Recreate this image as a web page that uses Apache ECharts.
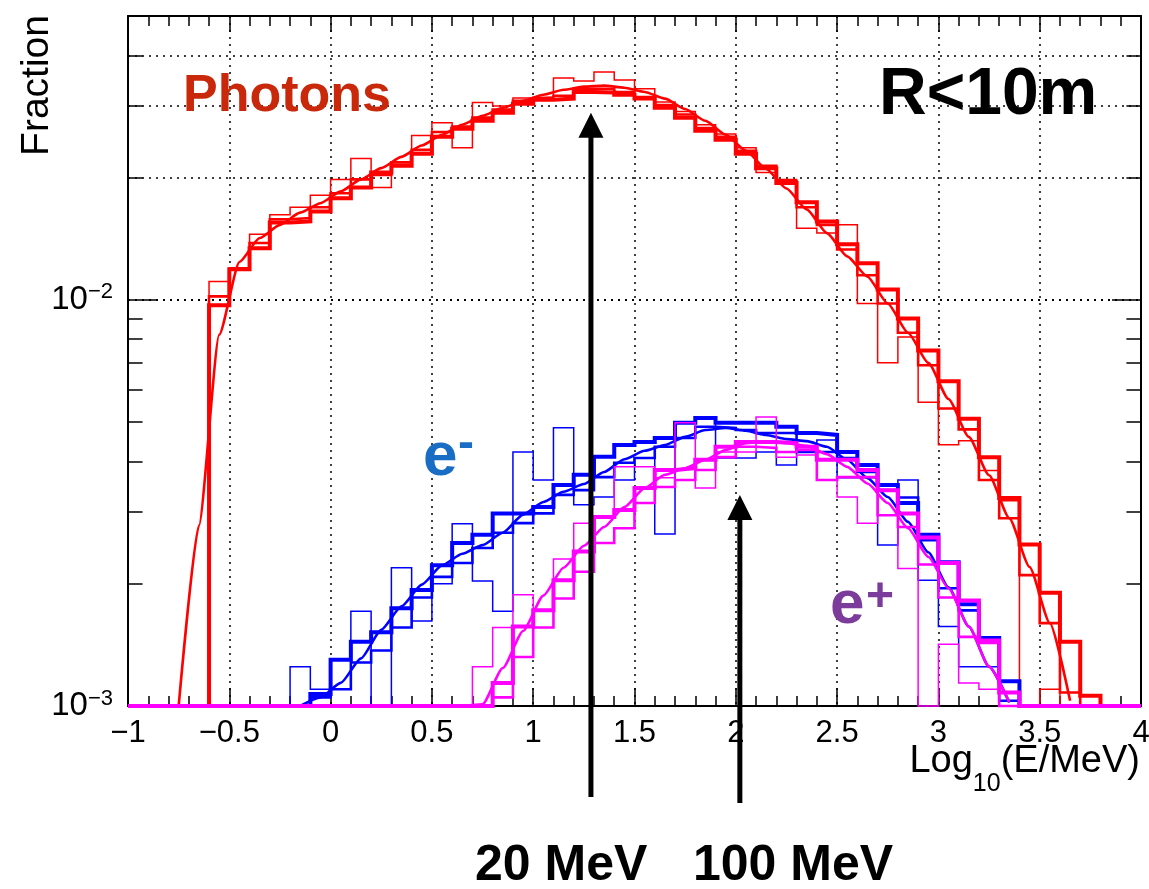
<!DOCTYPE html>
<html><head><meta charset="utf-8">
<script src="https://cdn.jsdelivr.net/npm/echarts@6/dist/echarts.min.js"></script>
<style>html,body{margin:0;padding:0;background:#fff}#c{width:1149px;height:889px}</style>
</head><body><div id="c"></div>
<script>
// ---- axis setup values ----
const BIN = 0.1;                 // histogram bin width in log10(E/MeV)
const X_MIN = -1, X_MAX = 4, X_STEP = 0.5;
const Y_MIN = 0.001, Y_MAX = 0.05;
const yMinorTicks = [0.002,0.003,0.004,0.005,0.006,0.007,0.008,0.009,0.02,0.03,0.04];

// ---- photons (first bin low edge -0.6) ----
const photonsStart = -0.6;
const photonsThin = [0.0111,0.0120,0.0145,0.0162,0.0169,0.0181,0.0198,0.0223,0.0189,0.0218,0.0254,0.0273,0.0237,0.0306,0.0300,0.0314,0.0316,0.0352,0.0346,0.0364,0.0348,0.0331,0.0307,0.0291,0.0270,0.0256,0.0237,0.0206,0.0198,0.0150,0.0146,0.0153,0.0098,0.0070,0.0081,0.0056,0.0044,0.0045,0.0038,0.0032,0,0.0011];
const photonsMedium = [0.0102,0.0119,0.0138,0.0158,0.0159,0.0169,0.0183,0.0198,0.0203,0.0218,0.0234,0.0259,0.0267,0.0281,0.0294,0.0309,0.0314,0.0318,0.0331,0.0331,0.0325,0.0316,0.0302,0.0286,0.0265,0.0252,0.0233,0.0214,0.0196,0.0169,0.0153,0.0133,0.0115,0.0098,0.0083,0.0069,0.0054,0.0048,0.0036,0.0029,0.0021,0.0016,0.00108];
const photonsThick = [0.0097,0.0119,0.0134,0.0155,0.0156,0.0165,0.0178,0.0189,0.0206,0.0214,0.0229,0.0252,0.0264,0.0276,0.0289,0.0304,0.0311,0.0313,0.0325,0.0324,0.0320,0.0313,0.0297,0.0281,0.0261,0.0248,0.0229,0.0211,0.0194,0.0174,0.0156,0.0137,0.0123,0.0106,0.0090,0.0075,0.0063,0.0051,0.0041,0.00325,0.0025,0.0019,0.00144,0.00106];
const photonsCurveStart = -0.75; // bin centre of first curve point
const photonsCurve = [0.001,0.00278,0.0082,0.0124,0.0142,0.0153,0.0164,0.0173,0.0185,0.0198,0.0211,0.0225,0.0240,0.0255,0.0270,0.0284,0.0297,0.0309,0.0320,0.0329,0.0335,0.0337,0.0333,0.0325,0.0313,0.0295,0.0276,0.0255,0.0233,0.0210,0.0188,0.0167,0.0146,0.0128,0.0114,0.0098,0.0083,0.0070,0.0057,0.0046,0.0037,0.0029,0.0022,0.0016,0.00103];

// ---- electrons ----
const electronsThinStart = -0.2;
const electronsThin = [0.00125,0.00110,0.00110,0.00171,0,0.00219,0.00162,0.00200,0.00281,0.00203,0.00171,0.00422,0.00360,0.00484,0.00313,0.00327,0.00360,0.00408,0.00265,0.00498,0.00512,0.00408,0.00408,0.00422,0.00392,0.00422,0.00452,0.00365,0.00365,0.00249,0.00360,0.00204,0.00157,0.00125,0.00125];
const electronsStart = -0.1;
const electronsMedium = [0.00105,0.00110,0.00128,0.00137,0.00156,0.00185,0.00208,0.00225,0.00245,0.00267,0.00282,0.00298,0.00331,0.00340,0.00366,0.00397,0.00408,0.00435,0.00457,0.00487,0.00484,0.00478,0.00470,0.00470,0.00422,0.00422,0.00408,0.00377,0.00340,0.00326,0.00256,0.00195,0.00172,0.00144,0.00103];
const electronsThick = [0.00107,0.00130,0.00144,0.00152,0.00174,0.00193,0.00222,0.00252,0.00264,0.00298,0.00298,0.00309,0.00350,0.00371,0.00411,0.00439,0.00447,0.00457,0.00498,0.00512,0.00498,0.00498,0.00498,0.00487,0.00470,0.00465,0.00422,0.00392,0.00350,0.00316,0.00264,0.00226,0.00178,0.00147,0.00115];
const electronsCurveStart = -0.15;
const electronsCurve = [0.001,0.00105,0.00114,0.00131,0.00154,0.00176,0.00199,0.00222,0.00237,0.00249,0.00267,0.00296,0.00318,0.00337,0.00352,0.00377,0.00405,0.00425,0.00439,0.00460,0.00478,0.00484,0.00476,0.00465,0.00454,0.00449,0.00435,0.00404,0.00364,0.00327,0.00284,0.00239,0.00196,0.00157,0.00125,0.00102];

// ---- positrons ----
const positronsThinStart = 0.7;
const positronsThin = [0.00125,0.00156,0.00188,0.00172,0.00230,0.00282,0.00292,0.00388,0.00388,0.00365,0.00498,0.00344,0.00422,0.00422,0.00515,0.00410,0.00415,0.00360,0.00327,0.00282,0.00295,0.00218,0,0.00142,0.00114,0.00110];
const positronsStart = 0.8;
const positronsMedium = [0.00105,0.00132,0.00156,0.00184,0.00214,0.00252,0.00274,0.00316,0.00346,0.00360,0.00381,0.00410,0.00435,0.00432,0.00422,0.00427,0.00360,0.00366,0.00366,0.00295,0.00276,0.00223,0.00185,0.00148,0.00143,0.001];
const positronsThick = [0.00114,0.00157,0.00172,0.00204,0.00240,0.00292,0.00304,0.00344,0.00381,0.00385,0.00404,0.00435,0.00447,0.00447,0.00444,0.00435,0.00404,0.00404,0.00381,0.00340,0.00298,0.00260,0.00225,0.00182,0.00145,0.00108];
const positronsCurveStart = 0.65;
const positronsCurve = [0.001,0.00101,0.00124,0.00153,0.00187,0.00219,0.00248,0.00276,0.00309,0.00344,0.00371,0.00385,0.00404,0.00427,0.00444,0.00447,0.00444,0.00437,0.00417,0.00388,0.00353,0.00316,0.00274,0.00233,0.00195,0.00157,0.00125,0.00102];

// ---- energy thresholds marked by arrows: [log10(E/MeV), y from, y to] ----
const arrowLabels = ['20 MeV', '100 MeV'];
const arrows = [[1.285, 0.000597, 0.0289], [2.02, 0.000577, 0.00331]];

// ---------------------------------------------------------------
const FONT = '"Liberation Sans", Arial, Helvetica, sans-serif';
const RED = '#ff0000', BLUE = '#0000ff', MAG = '#ff00ff';

function hist(start, vals) {
  const n = Math.round((X_MAX - X_MIN) / BIN);
  const off = Math.round((start - X_MIN) / BIN);
  const pts = [];
  for (let i = 0; i <= n; i++) {
    const j = Math.min(i, n - 1) - off;
    let v = (j >= 0 && j < vals.length) ? vals[j] : 0;
    if (!(v > Y_MIN)) v = Y_MIN;
    pts.push([+(X_MIN + i * BIN).toFixed(3), v]);
  }
  return pts;
}
function curve(start, vals) {
  return vals.map((v, i) => [+(start + i * BIN).toFixed(3), Math.max(v, Y_MIN)]);
}
function histSeries(name, start, vals, color, width) {
  return { type: 'line', name, data: hist(start, vals), step: 'end', symbol: 'none', clip: false,
    silent: true, animation: false, lineStyle: { color, width, join: 'miter' } };
}
function curveSeries(name, start, vals, color) {
  return { type: 'line', name, data: curve(start, vals), smooth: 0.2, smoothMonotone: 'x',
    symbol: 'none', clip: false, silent: true, animation: false, lineStyle: { color, width: 2.6 } };
}
const dotted = { color: '#000', type: [2, 5], width: 1.5 };
const TICK_X = 0.072; // minor y tick length in x units

function fmtX(v) {
  const r = Math.round(v * 10) / 10;
  return String(r).replace('-', '\u2212');
}
function fmtY(v) {
  const e = Math.log10(v), r = Math.round(e);
  if (Math.abs(e - r) > 1e-6) return '';
  return '{b|10}{s|' + (r < 0 ? '\u2212' : '') + Math.abs(r) + '}';
}

const chart = echarts.init(document.getElementById('c'));
chart.setOption({
  animation: false,
  backgroundColor: '#fff',
  grid: { left: 128, right: 8, top: 16, bottom: 183, containLabel: false, outerBoundsMode: 'none' },
  xAxis: [{
    type: 'value', min: X_MIN, max: X_MAX, interval: X_STEP, position: 'bottom',
    axisLine: { show: true, onZero: false, lineStyle: { color: '#000', width: 2 } },
    axisTick: { show: true, inside: true, length: 18, lineStyle: { color: '#000', width: 1.5 } },
    minorTick: { show: true, splitNumber: 5, length: 10, lineStyle: { color: '#000', width: 1.5 } },
    axisLabel: { show: true, margin: 12, color: '#000', fontSize: 31, fontFamily: FONT, formatter: fmtX },
    splitLine: { show: true, lineStyle: dotted }
  }, {
    type: 'value', min: X_MIN, max: X_MAX, interval: X_STEP, position: 'top',
    axisLine: { show: true, onZero: false, lineStyle: { color: '#000', width: 2 } },
    axisTick: { show: true, inside: true, length: 16, lineStyle: { color: '#000', width: 1.5 } },
    minorTick: { show: true, splitNumber: 5, length: 10, lineStyle: { color: '#000', width: 1.5 } },
    axisLabel: { show: false }, splitLine: { show: false }
  }],
  yAxis: [{
    type: 'log', logBase: 10, min: Y_MIN, max: Y_MAX, position: 'left',
    axisLine: { show: true, onZero: false, lineStyle: { color: '#000', width: 2 } },
    axisTick: { show: true, inside: true, length: 29, lineStyle: { color: '#000', width: 1.5 } },
    minorTick: { show: false },
    axisLabel: { show: true, margin: 15, formatter: fmtY,
      rich: { b: { fontSize: 33, fontFamily: FONT, color: '#000', lineHeight: 37 },
              s: { fontSize: 22, fontFamily: FONT, color: '#000', verticalAlign: 'top' } } },
    splitLine: { show: true, lineStyle: dotted }
  }, {
    type: 'log', logBase: 10, min: Y_MIN, max: Y_MAX, position: 'right',
    axisLine: { show: true, onZero: false, lineStyle: { color: '#000', width: 2 } },
    axisTick: { show: true, inside: true, length: 29, lineStyle: { color: '#000', width: 1.5 } },
    axisLabel: { show: false }, splitLine: { show: false }
  }],
  series: [
    { type: 'line', name: 'grid', data: [], silent: true,
      markLine: { silent: true, symbol: ['none', 'none'], z: 1, animation: false, label: { show: false },
        lineStyle: dotted, data: yMinorTicks.map(v => ({ yAxis: v })) } },
    { type: 'line', name: 'ticks', data: [], silent: true,
      markLine: { silent: true, symbol: ['none', 'none'], z: 3, animation: false, label: { show: false },
        lineStyle: { color: '#000', type: 'solid', width: 1.5 },
        data: yMinorTicks.flatMap(v => [
          [{ coord: [X_MIN, v] }, { coord: [X_MIN + TICK_X, v] }],
          [{ coord: [X_MAX - TICK_X, v] }, { coord: [X_MAX, v] }]]) } },
    histSeries('photons thin', photonsStart, photonsThin, RED, 1.5),
    histSeries('photons medium', photonsStart, photonsMedium, RED, 2.6),
    histSeries('photons thick', photonsStart, photonsThick, RED, 4),
    curveSeries('photons curve', photonsCurveStart, photonsCurve, RED),
    histSeries('electrons thin', electronsThinStart, electronsThin, BLUE, 1.5),
    histSeries('electrons medium', electronsStart, electronsMedium, BLUE, 2.6),
    histSeries('electrons thick', electronsStart, electronsThick, BLUE, 4),
    curveSeries('electrons curve', electronsCurveStart, electronsCurve, BLUE),
    histSeries('positrons thin', positronsThinStart, positronsThin, MAG, 1.5),
    histSeries('positrons medium', positronsStart, positronsMedium, MAG, 2.6),
    histSeries('positrons thick', positronsStart, positronsThick, MAG, 4),
    curveSeries('positrons curve', positronsCurveStart, positronsCurve, MAG),
    { type: 'custom', name: 'arrows', data: arrows, clip: false, silent: true, z: 10,
      encode: { x: 0, y: [1, 2] },
      renderItem: function (params, api) {
        const x = api.value(0);
        const pb = api.coord([x, api.value(1)]);
        const pt = api.coord([x, api.value(2)]);
        const hl = 25, hw = 12.5;
        return { type: 'group', children: [
          { type: 'line', shape: { x1: pb[0], y1: pb[1], x2: pt[0], y2: pt[1] + hl - 2 },
            style: { stroke: '#000', lineWidth: 5 } },
          { type: 'polygon', shape: { points: [[pt[0], pt[1]], [pt[0] - hw, pt[1] + hl], [pt[0] + hw, pt[1] + hl]] },
            style: { fill: '#000' } }
        ] };
      } }
  ],
  graphic: [
    { type: 'text', x: 57, y: 15, rotation: Math.PI / 2, z: 100,
      style: { text: 'Fraction', font: '39px ' + FONT, fill: '#000', align: 'right', verticalAlign: 'bottom' } },
    { type: 'text', x: 1140, y: 726, z: 100,
      style: { text: '{a|Log}{s|10}{a|(E/MeV)}', align: 'right', verticalAlign: 'top',
        rich: { a: { fontSize: 38, fontFamily: FONT, fill: '#000' },
                s: { fontSize: 25, fontFamily: FONT, fill: '#000', verticalAlign: 'top', padding: [46, 0, 0, 0] } } } },
    { type: 'text', left: 183, top: 71, z: 100, style: { text: 'Photons', font: 'bold 52px ' + FONT, fill: '#c9290a' } },
    { type: 'text', left: 879, top: 63, z: 100, style: { text: 'R<10m', font: 'bold 66px ' + FONT, fill: '#000' } },
    { type: 'text', left: 423, top: 427, z: 100, style: { text: 'e', font: 'bold 62px ' + FONT, fill: '#1a6dc4' } },
    { type: 'text', left: 458, top: 421, z: 100, style: { text: '-', font: 'bold 48px ' + FONT, fill: '#1a6dc4' } },
    { type: 'text', left: 830, top: 575, z: 100, style: { text: 'e', font: 'bold 62px ' + FONT, fill: '#7b3c9c' } },
    { type: 'text', left: 866, top: 574, z: 100, style: { text: '+', font: 'bold 48px ' + FONT, fill: '#7b3c9c' } },
    { type: 'text', left: 475, top: 841, z: 100, style: { text: arrowLabels[0], font: 'bold 50px ' + FONT, fill: '#000' } },
    { type: 'text', left: 693, top: 841, z: 100, style: { text: arrowLabels[1], font: 'bold 50px ' + FONT, fill: '#000' } }
  ]
});
</script>
</body></html>
